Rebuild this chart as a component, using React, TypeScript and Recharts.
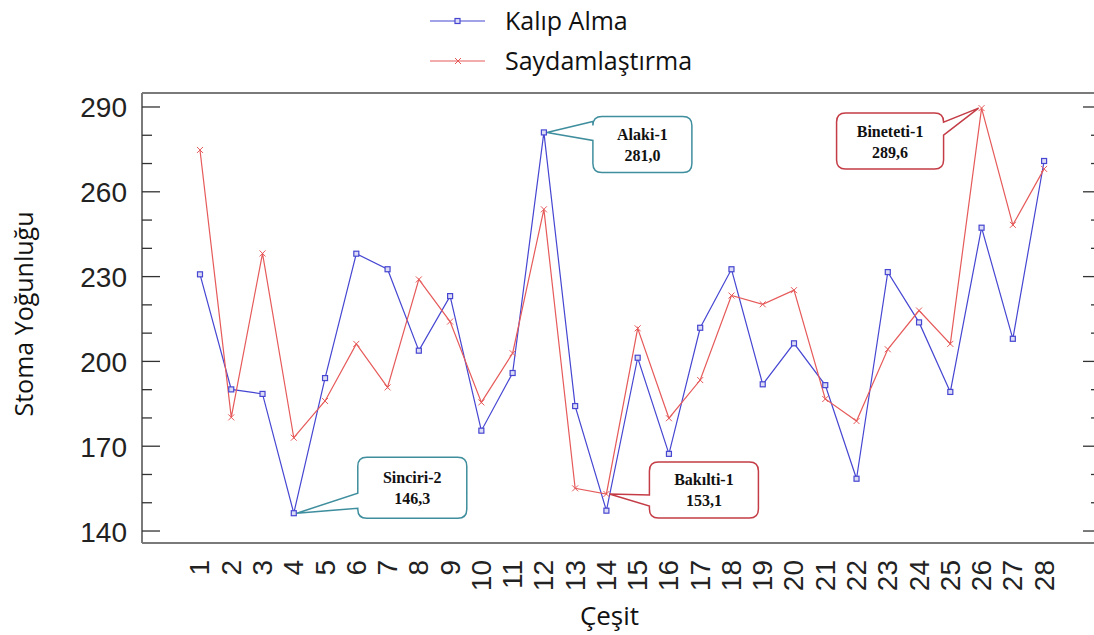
import React from 'react';
import { LineChart, Line, XAxis, YAxis, ReferenceDot, Legend, Label } from 'recharts';

const categories = [1, 2, 3, 4, 5, 6, 7, 8, 9, 10, 11, 12, 13, 14, 15, 16, 17, 18, 19, 20, 21, 22, 23, 24, 25, 26, 27, 28];
const kalipAlma = [230.8, 190.1, 188.5, 146.3, 194.1, 238.1, 232.6, 203.8, 223.1, 175.5, 195.9, 281.0, 184.2, 147.2, 201.3, 167.3, 211.9, 232.6, 191.9, 206.4, 191.6, 158.5, 231.6, 213.8, 189.2, 247.3, 208.0, 270.9];
const saydamlastirma = [274.8, 180.2, 238.2, 173.0, 186.0, 206.2, 190.8, 229.0, 214.1, 185.5, 202.9, 253.8, 155.1, 153.1, 211.7, 179.9, 193.4, 223.3, 220.2, 225.2, 186.7, 178.9, 204.3, 218.0, 206.2, 289.6, 248.3, 268.1];
const yTicks = [140, 150, 160, 170, 180, 190, 200, 210, 220, 230, 240, 250, 260, 270, 280, 290];
const yMajor = [140, 170, 200, 230, 260, 290];
const seriesNames = ['Kalıp Alma', 'Saydamlaştırma'];
const xTitle = 'Çeşit';
const yTitle = 'Stoma Yoğunluğu';

// annotations: name, category, series, shown value
const annotations = [
  { name: 'Sinciri-2', cat: 4, series: 'kalip', text: '146,3' },
  { name: 'Alaki-1', cat: 12, series: 'kalip', text: '281,0' },
  { name: 'Bakılti-1', cat: 14, series: 'sayd', text: '153,1' },
  { name: 'Bineteti-1', cat: 26, series: 'sayd', text: '289,6' },
];

const data = categories.map((c, i) => ({ x: c, kalip: kalipAlma[i], sayd: saydamlastirma[i] }));

const BLUE = '#4646d2';
const RED = '#e65a5a';
const TEAL = '#3f8e9e';
const CRED = '#c43c46';
const AXIS = '#7a7a7a';
const TICKFONT = '"Liberation Sans", Arial, sans-serif';
const TITLEFONT = '"Open Sans", sans-serif';

const calloutLayout: Record<string, any> = {
  'Sinciri-2': { dx: 64, dy: -56, w: 109, h: 61, side: 'left', t1: -20, t2: -5, color: TEAL },
  'Alaki-1': { dx: 49, dy: -16, w: 99, h: 56, side: 'left', t1: -11, t2: 8, color: TEAL },
  'Bakılti-1': { dx: 43, dy: -32, w: 109, h: 56, side: 'left', t1: 1, t2: 12, color: CRED },
  'Bineteti-1': { dx: -145, dy: 5, w: 107, h: 56, side: 'right', t1: 14, t2: 27, color: CRED },
};

const calloutPath = (cx: number, cy: number, L: any) => {
  const x = cx + L.dx, y = cy + L.dy, w = L.w, h = L.h, r = 9;
  const t1 = cy + L.t1, t2 = cy + L.t2;
  if (L.side === 'left') {
    return `M ${x + r} ${y} H ${x + w - r} Q ${x + w} ${y} ${x + w} ${y + r} V ${y + h - r} Q ${x + w} ${y + h} ${x + w - r} ${y + h} H ${x + r} Q ${x} ${y + h} ${x} ${y + h - r} V ${t2} L ${cx + 3} ${cy} L ${x} ${t1} V ${y + r} Q ${x} ${y} ${x + r} ${y} Z`;
  }
  return `M ${x + r} ${y} H ${x + w - r} Q ${x + w} ${y} ${x + w} ${y + r} V ${t1} L ${cx - 3} ${cy} L ${x + w} ${t2} V ${y + h - r} Q ${x + w} ${y + h} ${x + w - r} ${y + h} H ${x + r} Q ${x} ${y + h} ${x} ${y + h - r} V ${y + r} Q ${x} ${y} ${x + r} ${y} Z`;
};

const makeCallout = (name: string, text: string) => (props: any) => {
  const { cx, cy } = props;
  if (cx == null || cy == null) return <g />;
  const L = calloutLayout[name];
  const bx = cx + L.dx + L.w / 2;
  const by = cy + L.dy + L.h / 2;
  return (
    <g>
      <path d={calloutPath(cx, cy, L)} fill="#ffffff" stroke={L.color} strokeWidth={1.5} />
      <text x={bx} y={by - 10} textAnchor="middle" dominantBaseline="central" fontFamily='"Liberation Serif", serif' fontWeight="bold" fontSize={16} fill="#111">{name}</text>
      <text x={bx} y={by + 11} textAnchor="middle" dominantBaseline="central" fontFamily='"Liberation Serif", serif' fontWeight="bold" fontSize={16} fill="#111">{text}</text>
    </g>
  );
};

const SquareDot = (props: any) => {
  const { cx, cy } = props;
  if (cx == null || cy == null) return <g />;
  return <rect x={cx - 2.5} y={cy - 2.5} width={5} height={5} fill="#dcdcf4" stroke={BLUE} strokeWidth={1.2} />;
};

const CrossDot = (props: any) => {
  const { cx, cy } = props;
  if (cx == null || cy == null) return <g />;
  const s = 3;
  return (
    <g stroke={RED} strokeWidth={1}>
      <line x1={cx - s} y1={cy - s} x2={cx + s} y2={cy + s} />
      <line x1={cx - s} y1={cy + s} x2={cx + s} y2={cy - s} />
    </g>
  );
};

const XTick = (props: any) => {
  const { x, y, payload } = props;
  const ty = y + 9;
  return (
    <text x={x} y={ty} transform={`rotate(-90, ${x}, ${ty})`} textAnchor="end" dominantBaseline="central" fontFamily={TICKFONT} fontSize={28} fill="#222">
      {payload.value}
    </text>
  );
};

const LeftTick = (props: any) => {
  const { x, y, payload } = props;
  const major = yMajor.includes(payload.value);
  return (
    <g>
      <line x1={x} y1={y} x2={x + (major ? 18 : 10)} y2={y} stroke="#333" strokeWidth={1.3} />
      {major && (
        <text x={x - 15} y={y + 1} textAnchor="end" dominantBaseline="central" fontFamily={TICKFONT} fontSize={28} fill="#222">
          {payload.value}
        </text>
      )}
    </g>
  );
};

const RightTick = (props: any) => {
  const { x, y, payload } = props;
  const major = yMajor.includes(payload.value);
  return <line x1={x} y1={y} x2={x - (major ? 18 : 10)} y2={y} stroke="#333" strokeWidth={1.3} />;
};

const LegendContent = () => (
  <svg width={1094} height={85}>
    <line x1={430} y1={21} x2={485} y2={21} stroke={BLUE} strokeWidth={1.2} />
    <rect x={455} y={18.5} width={5} height={5} fill="#dcdcf4" stroke={BLUE} strokeWidth={1.2} />
    <text x={505} y={20} dominantBaseline="central" fontFamily={TITLEFONT} fontSize={25} fill="#111">{seriesNames[0]}</text>
    <line x1={430} y1={61} x2={485} y2={61} stroke={RED} strokeWidth={1.2} />
    <g stroke={RED} strokeWidth={1}>
      <line x1={455} y1={58} x2={461} y2={64} />
      <line x1={455} y1={64} x2={461} y2={58} />
    </g>
    <text x={505} y={60} dominantBaseline="central" fontFamily={TITLEFONT} fontSize={25} fill="#111">{seriesNames[1]}</text>
  </svg>
);

const YDOMAIN: [number, number] = [135.76, 294.95];
const XDOMAIN: [number, number] = [-0.855, 29.82];

export default function App() {
  return (
    <div style={{ position: 'absolute', left: 0, top: 0, width: 1094, height: 635, overflow: 'hidden', background: '#fff' }}>
      <LineChart width={1120} height={635} data={data} margin={{ top: 92, right: 18, bottom: 32, left: 62 }}>
        <XAxis
          dataKey="x"
          type="number"
          domain={XDOMAIN}
          allowDataOverflow
          ticks={categories}
          interval={0}
          height={60}
          tick={<XTick />}
          tickLine={false}
          axisLine={{ stroke: AXIS, strokeWidth: 2 }}
        >
          <Label
            content={(p: any) => {
              const vb = p.viewBox || {};
              return (
                <text x={vb.x + vb.width / 2 - 12} y={615} textAnchor="middle" dominantBaseline="central" fontFamily={TITLEFONT} fontSize={26} fill="#111">
                  {xTitle}
                </text>
              );
            }}
          />
        </XAxis>
        <XAxis xAxisId="top" orientation="top" type="number" domain={XDOMAIN} allowDataOverflow height={1} tick={false} tickLine={false} axisLine={{ stroke: AXIS, strokeWidth: 2 }} />
        <YAxis
          type="number"
          domain={YDOMAIN}
          allowDataOverflow
          ticks={yTicks}
          interval={0}
          width={80}
          tickSize={0}
          tickMargin={0}
          tick={<LeftTick />}
          tickLine={false}
          axisLine={{ stroke: AXIS, strokeWidth: 2 }}
        >
          <Label
            content={(p: any) => {
              const vb = p.viewBox || {};
              const cx = 23;
              const cy = vb.y + vb.height / 2 - 4;
              return (
                <text x={cx} y={cy} transform={`rotate(-90, ${cx}, ${cy})`} textAnchor="middle" dominantBaseline="central" fontFamily={TITLEFONT} fontSize={25} fill="#111">
                  {yTitle}
                </text>
              );
            }}
          />
        </YAxis>
        <YAxis
          yAxisId="right"
          orientation="right"
          type="number"
          domain={YDOMAIN}
          allowDataOverflow
          ticks={yTicks}
          interval={0}
          width={1}
          tickSize={0}
          tickMargin={0}
          tick={<RightTick />}
          tickLine={false}
          axisLine={{ stroke: AXIS, strokeWidth: 2 }}
        />
        <Legend layout="vertical" align="center" verticalAlign="middle" content={<LegendContent />} wrapperStyle={{ top: 0, left: 0, width: 1094, height: 85 }} />
        <Line type="linear" dataKey="kalip" name={seriesNames[0]} stroke={BLUE} strokeWidth={1.2} dot={<SquareDot />} activeDot={false} isAnimationActive={false} />
        <Line type="linear" dataKey="sayd" name={seriesNames[1]} stroke={RED} strokeWidth={1.2} dot={<CrossDot />} activeDot={false} isAnimationActive={false} />
        {annotations.map((a) => (
          <ReferenceDot
            key={a.name}
            x={a.cat}
            y={(a.series === 'kalip' ? kalipAlma : saydamlastirma)[a.cat - 1]}
            ifOverflow="visible"
            shape={makeCallout(a.name, a.text)}
          />
        ))}
      </LineChart>
    </div>
  );
}
